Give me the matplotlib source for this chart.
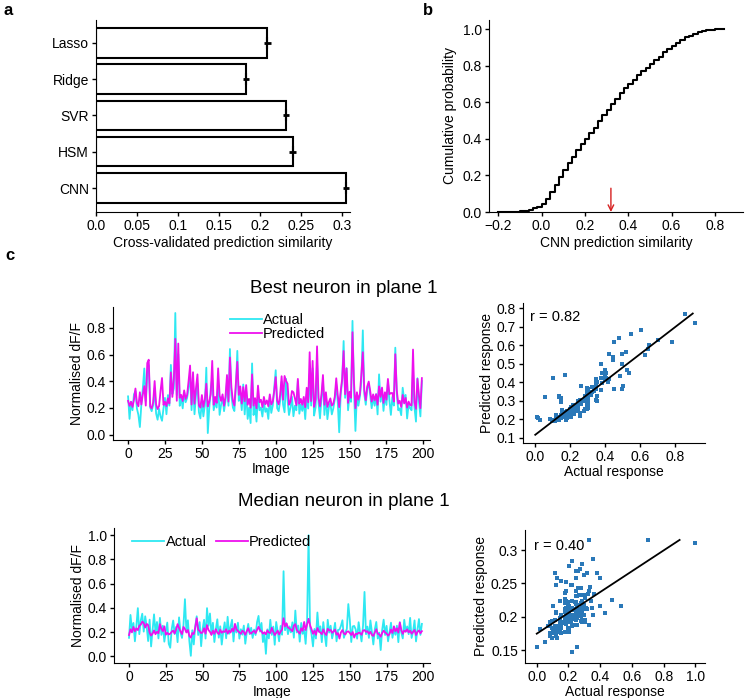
import numpy as np
import matplotlib
matplotlib.use("Agg")
import matplotlib.pyplot as plt

plt.rcParams['font.family'] = ['Liberation Sans', 'DejaVu Sans']
plt.rcParams['font.size'] = 10

# panel a
models = ["Lasso", "Ridge", "SVR", "HSM", "CNN"]
similarity = [0.209, 0.183, 0.232, 0.240, 0.305]
sim_err = [0.004, 0.004, 0.004, 0.004, 0.004]

# panel b (CDF of CNN prediction similarity, bin edges of 0.02)
cdf_x = [-0.20, -0.18, -0.16, -0.14, -0.12, -0.10, -0.08, -0.06, -0.04, -0.02,
         0.00, 0.02, 0.04, 0.06, 0.08, 0.10, 0.12, 0.14, 0.16, 0.18,
         0.20, 0.22, 0.24, 0.26, 0.28, 0.30, 0.32, 0.34, 0.36, 0.38,
         0.40, 0.42, 0.44, 0.46, 0.48, 0.50, 0.52, 0.54, 0.56, 0.58,
         0.60, 0.62, 0.64, 0.66, 0.68, 0.70, 0.72, 0.74, 0.76, 0.78,
         0.80, 0.82, 0.84]
cdf_y = [0.0, 0.0, 0.0, 0.001, 0.002, 0.003, 0.006, 0.012, 0.02, 0.03,
         0.045, 0.07, 0.11, 0.15, 0.19, 0.23, 0.27, 0.30, 0.34, 0.37,
         0.40, 0.43, 0.46, 0.50, 0.53, 0.56, 0.59, 0.62, 0.65, 0.68,
         0.70, 0.72, 0.75, 0.77, 0.79, 0.81, 0.83, 0.85, 0.875, 0.89,
         0.91, 0.925, 0.94, 0.955, 0.965, 0.975, 0.985, 0.99, 0.995, 0.998,
         1.0, 1.0, 1.0]
cnn_mean = 0.32

# panel c, best neuron
best_actual = [
    0.287, 0.118, 0.246, 0.183, 0.302, 0.327, 0.196, 0.148, 0.057, 0.224,
    0.347, 0.496, 0.253, 0.446, 0.521, 0.204, 0.176, 0.223, 0.348, 0.158,
    0.112, 0.193, 0.137, 0.104, 0.198, 0.276, 0.153, 0.297, 0.218, 0.523,
    0.304, 0.346, 0.912, 0.297, 0.603, 0.216, 0.283, 0.197, 0.318, 0.243,
    0.276, 0.352, 0.447, 0.184, 0.396, 0.153, 0.297, 0.384, 0.168, 0.122,
    0.254, 0.137, 0.218, 0.502, 0.012, 0.197, 0.346, 0.423, 0.183, 0.247,
    0.203, 0.377, 0.148, 0.224, 0.283, 0.176, 0.254, 0.398, 0.217, 0.642,
    0.298, 0.203, 0.177, 0.346, 0.628, 0.253, 0.304, 0.184, 0.376, 0.152,
    0.326, 0.118, 0.203, 0.087, 0.534, 0.147, 0.223, 0.098, 0.296, 0.183,
    0.204, 0.136, 0.248, 0.171, 0.197, 0.118, 0.277, 0.163, 0.218, 0.352,
    0.483, 0.198, 0.176, 0.253, 0.397, 0.224, 0.168, 0.418, 0.262, 0.147,
    0.203, 0.284, 0.138, 0.217, 0.183, 0.402, 0.157, 0.226, 0.178, 0.253,
    0.117, 0.302, 0.196, 0.452, 0.218, 0.497, 0.143, 0.204, 0.548, 0.237,
    0.122, 0.276, 0.403, 0.148, 0.297, 0.116, 0.204, 0.238, 0.152, 0.196,
    0.263, 0.376, 0.247, 0.018, 0.298, 0.404, 0.702, 0.276, 0.498, 0.183,
    0.297, 0.246, 0.853, 0.347, 0.028, 0.302, 0.217, 0.284, 0.397, 0.782,
    0.303, 0.224, 0.348, 0.383, 0.297, 0.198, 0.283, 0.217, 0.304, 0.152,
    0.452, 0.247, 0.334, 0.178, 0.298, 0.223, 0.396, 0.258, 0.148, 0.283,
    0.218, 0.652, 0.304, 0.183, 0.197, 0.146, 0.352, 0.257, 0.298, 0.121,
    0.224, 0.198, 0.183, 0.478, 0.203, 0.098, 0.423, 0.247, 0.137, 0.402]
best_pred = [
    0.253, 0.216, 0.247, 0.208, 0.262, 0.346, 0.238, 0.213, 0.318, 0.226,
    0.303, 0.364, 0.218, 0.537, 0.562, 0.212, 0.197, 0.243, 0.402, 0.226,
    0.192, 0.214, 0.328, 0.425, 0.223, 0.246, 0.214, 0.272, 0.234, 0.467,
    0.283, 0.418, 0.718, 0.254, 0.683, 0.276, 0.298, 0.252, 0.332, 0.268,
    0.297, 0.403, 0.518, 0.226, 0.468, 0.232, 0.348, 0.452, 0.218, 0.203,
    0.297, 0.208, 0.264, 0.382, 0.212, 0.246, 0.303, 0.553, 0.224, 0.283,
    0.238, 0.497, 0.294, 0.253, 0.302, 0.217, 0.284, 0.447, 0.248, 0.578,
    0.352, 0.253, 0.218, 0.384, 0.546, 0.298, 0.362, 0.233, 0.357, 0.251,
    0.372, 0.224, 0.268, 0.202, 0.452, 0.218, 0.274, 0.198, 0.368, 0.243,
    0.262, 0.207, 0.283, 0.228, 0.257, 0.213, 0.302, 0.226, 0.248, 0.327,
    0.432, 0.254, 0.227, 0.298, 0.438, 0.262, 0.440, 0.403, 0.382, 0.224,
    0.248, 0.327, 0.318, 0.273, 0.221, 0.418, 0.232, 0.268, 0.224, 0.283,
    0.206, 0.352, 0.243, 0.618, 0.252, 0.553, 0.208, 0.263, 0.662, 0.276,
    0.212, 0.302, 0.447, 0.224, 0.318, 0.208, 0.243, 0.272, 0.218, 0.232,
    0.284, 0.423, 0.298, 0.206, 0.324, 0.418, 0.627, 0.303, 0.497, 0.238,
    0.322, 0.276, 0.768, 0.398, 0.198, 0.318, 0.262, 0.302, 0.452, 0.618,
    0.334, 0.258, 0.362, 0.398, 0.327, 0.248, 0.302, 0.257, 0.303, 0.224,
    0.362, 0.283, 0.353, 0.238, 0.318, 0.262, 0.418, 0.303, 0.312, 0.312,
    0.248, 0.603, 0.332, 0.233, 0.254, 0.208, 0.298, 0.234, 0.276, 0.203,
    0.248, 0.223, 0.219, 0.638, 0.243, 0.193, 0.418, 0.298, 0.198, 0.424]

# panel c, median neuron
median_actual = [
    0.153, 0.342, 0.218, 0.276, 0.124, 0.251, 0.398, 0.183, 0.297, 0.352,
    0.204, 0.331, 0.247, 0.126, 0.303, 0.082, 0.219, 0.347, 0.196, 0.284,
    0.148, 0.318, 0.177, 0.253, 0.121, 0.206, 0.279, 0.103, 0.071, 0.224,
    0.296, 0.184, 0.243, 0.117, 0.322, 0.197, 0.152, 0.258, 0.472, 0.203,
    0.298, 0.126, 0.004, 0.216, 0.098, 0.247, 0.331, 0.176, 0.283, 0.084,
    0.226, 0.302, 0.147, 0.398, 0.252, 0.354, 0.181, 0.277, 0.118, 0.223,
    0.306, 0.154, 0.248, 0.097, 0.203, 0.281, 0.149, 0.327, 0.186, 0.244,
    0.302, 0.123, 0.262, 0.197, 0.278, 0.146, 0.224, 0.179, 0.254, 0.104,
    0.197, 0.268, 0.183, 0.236, 0.152, 0.221, 0.176, 0.283, 0.334, 0.204,
    0.276, 0.118, 0.184, 0.021, 0.223, 0.148, 0.302, 0.177, 0.246, 0.096,
    0.284, 0.203, 0.124, 0.251, 0.178, 0.703, 0.216, 0.272, 0.183, 0.247,
    0.198, 0.281, 0.154, 0.378, 0.197, 0.254, 0.121, 0.276, 0.186, 0.223,
    0.103, 0.297, 1.000, 0.246, 0.184, 0.082, 0.226, 0.147, 0.362, 0.203,
    0.248, 0.117, 0.283, 0.176, 0.084, 0.302, 0.196, 0.253, 0.148, 0.204,
    0.277, 0.124, 0.218, 0.221, 0.252, 0.298, 0.153, 0.197, 0.226, 0.432,
    0.303, 0.118, 0.247, 0.251, 0.223, 0.146, 0.282, 0.197, 0.123, 0.254,
    0.532, 0.183, 0.246, 0.152, 0.297, 0.204, 0.098, 0.223, 0.284, 0.147,
    0.196, 0.052, 0.218, 0.303, 0.176, 0.252, 0.124, 0.203, 0.278, 0.153,
    0.224, 0.178, 0.253, 0.117, 0.282, 0.197, 0.148, 0.302, 0.203, 0.247,
    0.183, 0.318, 0.152, 0.204, 0.297, 0.123, 0.221, 0.308, 0.177, 0.268]
median_pred = [
    0.176, 0.224, 0.198, 0.243, 0.207, 0.231, 0.217, 0.252, 0.263, 0.287,
    0.276, 0.238, 0.268, 0.258, 0.196, 0.172, 0.188, 0.214, 0.183, 0.203,
    0.191, 0.266, 0.227, 0.208, 0.248, 0.179, 0.194, 0.181, 0.187, 0.202,
    0.213, 0.189, 0.222, 0.266, 0.234, 0.206, 0.184, 0.243, 0.226, 0.197,
    0.218, 0.168, 0.155, 0.193, 0.184, 0.238, 0.315, 0.221, 0.209, 0.192,
    0.198, 0.232, 0.187, 0.258, 0.217, 0.203, 0.177, 0.212, 0.186, 0.224,
    0.196, 0.183, 0.219, 0.194, 0.207, 0.201, 0.224, 0.188, 0.213, 0.197,
    0.228, 0.206, 0.268, 0.223, 0.209, 0.198, 0.186, 0.212, 0.202, 0.178,
    0.208, 0.232, 0.196, 0.188, 0.203, 0.211, 0.192, 0.218, 0.244, 0.216,
    0.207, 0.187, 0.199, 0.182, 0.214, 0.197, 0.193, 0.236, 0.203, 0.176,
    0.193, 0.213, 0.181, 0.204, 0.222, 0.315, 0.247, 0.272, 0.238, 0.231,
    0.219, 0.208, 0.253, 0.266, 0.218, 0.202, 0.187, 0.232, 0.211, 0.284,
    0.217, 0.262, 0.310, 0.258, 0.224, 0.186, 0.212, 0.178, 0.234, 0.207,
    0.196, 0.183, 0.223, 0.191, 0.176, 0.228, 0.213, 0.218, 0.194, 0.206,
    0.221, 0.179, 0.192, 0.147, 0.198, 0.217, 0.188, 0.181, 0.203, 0.206,
    0.194, 0.176, 0.201, 0.155, 0.187, 0.183, 0.196, 0.192, 0.178, 0.213,
    0.217, 0.202, 0.208, 0.186, 0.203, 0.177, 0.168, 0.198, 0.224, 0.186,
    0.182, 0.162, 0.193, 0.212, 0.198, 0.188, 0.171, 0.184, 0.221, 0.193,
    0.248, 0.207, 0.231, 0.196, 0.279, 0.218, 0.186, 0.213, 0.204, 0.223,
    0.198, 0.212, 0.187, 0.203, 0.218, 0.176, 0.202, 0.214, 0.191, 0.208]

cyan = "#2ee8f2"
magenta = "#ee10ee"
dot_blue = "#2a78b8"

W, H = 746, 698
fig = plt.figure(figsize=(W / 100, H / 100), dpi=100)


def box(left, right, top, bottom):
    return [left / W, 1 - bottom / H, (right - left) / W, (bottom - top) / H]


def style(ax):
    for s in ["top", "right"]:
        ax.spines[s].set_visible(False)
    ax.tick_params(direction="out", length=3, width=1, pad=2)


# ---- a ----
ax = fig.add_axes(box(96, 350, 20, 212))
ypos = np.arange(len(models))[::-1]
ax.barh(ypos, similarity, height=0.81, color="white", edgecolor="black", linewidth=1.5)
ax.errorbar(similarity, ypos, xerr=sim_err, fmt="|", color="black",
            markersize=8, markeredgewidth=1.5, elinewidth=2, capsize=0)
ax.set_yticks(ypos)
ax.set_yticklabels(models)
ax.set_xlim(0, 0.31)
ax.set_ylim(-0.66, 4.63)
ax.set_xticks([0, 0.05, 0.1, 0.15, 0.2, 0.25, 0.3])
ax.set_xticklabels(["0.0", "0.05", "0.1", "0.15", "0.2", "0.25", "0.3"])
ax.set_xlabel("Cross-validated prediction similarity", labelpad=2)
style(ax)

# ---- b ----
ax = fig.add_axes(box(489, 743, 20, 212))
ax.step(cdf_x, cdf_y, where="post", color="black", linewidth=1.5)
ax.annotate("", xy=(cnn_mean, 0.0), xytext=(cnn_mean, 0.13),
            arrowprops=dict(arrowstyle="->", color="#d62020", lw=1, shrinkA=0, shrinkB=0))
ax.set_xlim(-0.243, 0.93)
ax.set_ylim(0, 1.05)
ax.set_xticks([-0.2, 0.0, 0.2, 0.4, 0.6, 0.8])
ax.set_xticklabels(["\u22120.2", "0.0", "0.2", "0.4", "0.6", "0.8"])
ax.set_yticks([0, 0.2, 0.4, 0.6, 0.8, 1.0])
ax.set_yticklabels(["0.0", "0.2", "0.4", "0.6", "0.8", "1.0"])
ax.set_xlabel("CNN prediction similarity", labelpad=2)
ax.set_ylabel("Cumulative probability")
style(ax)

images = np.arange(len(best_actual))

# ---- c, best neuron ----
ax = fig.add_axes(box(113, 430, 307, 440))
ax.plot(images, best_actual, color=cyan, linewidth=1.3, label="Actual")
ax.plot(images, best_pred, color=magenta, linewidth=1.3, label="Predicted")
ax.set_xlim(-10.2, 204.5)
ax.set_ylim(-0.04, 0.957)
ax.set_xticks(np.arange(0, 201, 25))
ax.set_yticks([0, 0.2, 0.4, 0.6, 0.8])
ax.set_yticklabels(["0.0", "0.2", "0.4", "0.6", "0.8"])
ax.set_xlabel("Image", labelpad=1)
ax.set_ylabel("Normalised dF/F", labelpad=2)
ax.legend(loc="upper left", bbox_to_anchor=(0.345, 1.01), frameon=False,
          borderpad=0, handlelength=2.2, handletextpad=0.1, labelspacing=0.0,
          fontsize=10.5)
style(ax)

ax = fig.add_axes(box(523, 705, 303, 443))
ax.scatter(best_actual, best_pred, s=8, marker="s", color=dot_blue, linewidths=0)
k, b = np.polyfit(best_actual, best_pred, 1)
fx = np.array([0.0, 0.9])
ax.plot(fx, k * fx + b, color="black", linewidth=1.3)
ax.text(0.04, 0.95, "r = 0.82", transform=ax.transAxes, ha="left", va="top", fontsize=10.5)
ax.set_xlim(-0.07, 0.97)
ax.set_ylim(0.072, 0.827)
ax.set_xticks([0, 0.2, 0.4, 0.6, 0.8])
ax.set_xticklabels(["0.0", "0.2", "0.4", "0.6", "0.8"])
ax.set_yticks([0.1, 0.2, 0.3, 0.4, 0.5, 0.6, 0.7, 0.8])
ax.set_xlabel("Actual response", labelpad=1)
ax.set_ylabel("Predicted response", labelpad=2)
style(ax)

# ---- c, median neuron ----
ax = fig.add_axes(box(114, 430, 528, 663))
ax.plot(images, median_actual, color=cyan, linewidth=1.3, label="Actual")
ax.plot(images, median_pred, color=magenta, linewidth=1.3, label="Predicted")
ax.set_xlim(-10.2, 204.5)
ax.set_ylim(-0.055, 1.06)
ax.set_xticks(np.arange(0, 201, 25))
ax.set_yticks([0, 0.2, 0.4, 0.6, 0.8, 1.0])
ax.set_yticklabels(["0.0", "0.2", "0.4", "0.6", "0.8", "1.0"])
ax.set_xlabel("Image", labelpad=1)
ax.set_ylabel("Normalised dF/F", labelpad=2)
ax.legend(loc="upper left", bbox_to_anchor=(0.035, 1.0), frameon=False, ncol=2,
          borderpad=0, handlelength=2.2, handletextpad=0.1, columnspacing=0.6,
          fontsize=10.5)
style(ax)

ax = fig.add_axes(box(525, 705, 530, 663))
ax.scatter(median_actual, median_pred, s=8, marker="s", color=dot_blue, linewidths=0)
k, b = np.polyfit(median_actual, median_pred, 1)
ax.plot(fx, k * fx + b, color="black", linewidth=1.3)
ax.text(0.05, 0.93, "r = 0.40", transform=ax.transAxes, ha="left", va="top", fontsize=10.5)
ax.set_xlim(-0.074, 1.06)
ax.set_ylim(0.131, 0.33)
ax.set_xticks([0, 0.2, 0.4, 0.6, 0.8, 1.0])
ax.set_xticklabels(["0.0", "0.2", "0.4", "0.6", "0.8", "1.0"])
ax.set_yticks([0.15, 0.2, 0.25, 0.3])
ax.set_yticklabels(["0.15", "0.2", "0.25", "0.3"])
ax.set_xlabel("Actual response", labelpad=1)
ax.set_ylabel("Predicted response", labelpad=2)
style(ax)

# titles and panel letters
fig.text(344 / W, 1 - 288 / H, "Best neuron in plane 1", ha="center", va="center", fontsize=13.5)
fig.text(344 / W, 1 - 502 / H, "Median neuron in plane 1", ha="center", va="center", fontsize=13.5)
fig.text(3 / W, 1 - 3 / H, "a", ha="left", va="top", fontsize=12, fontweight="bold")
fig.text(423 / W, 1 - 3 / H, "b", ha="left", va="top", fontsize=12, fontweight="bold")
fig.text(5 / W, 1 - 248 / H, "c", ha="left", va="top", fontsize=12, fontweight="bold")

fig.savefig("out.png", dpi=100)
